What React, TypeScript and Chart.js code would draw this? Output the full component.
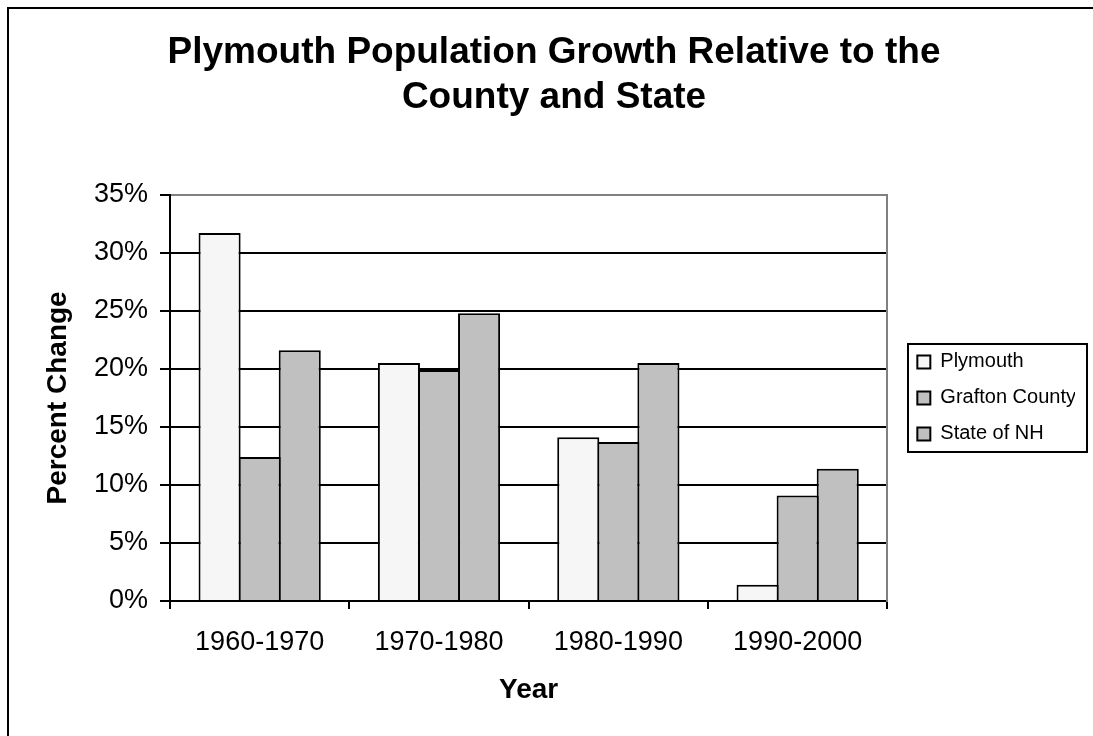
import React, { useEffect, useRef } from 'react';
import { Chart, registerables } from 'chart.js';

Chart.register(...registerables);

const categories = ['1960-1970', '1970-1980', '1980-1990', '1990-2000'];
const seriesNames = ['Plymouth', 'Grafton County', 'State of NH'];
const plymouth = [31.7, 20.5, 14.1, 1.4];
const graftonCounty = [12.4, 19.9, 13.7, 9.1];
const stateOfNH = [21.6, 24.8, 20.5, 11.4];
const yMin = 0;
const yMax = 35;
const yStep = 5;
const titleLines = ['Plymouth Population Growth Relative to the', 'County and State'];
const xTitle = 'Year';
const yTitle = 'Percent Change';

const FONT = "'Liberation Sans', Arial, Helvetica, sans-serif";

const legendFrame = {
  id: 'legendFrame',
  afterDraw(chart: any) {
    const hb = chart.legend && chart.legend.legendHitBoxes;
    if (!hb || !hb.length) return;
    let left = Infinity, right = -Infinity, top = Infinity, bottom = -Infinity;
    hb.forEach((b: any) => {
      left = Math.min(left, b.left);
      right = Math.max(right, b.left + b.width);
      top = Math.min(top, b.top);
      bottom = Math.max(bottom, b.top + b.height);
    });
    const ctx = chart.ctx;
    const x0 = Math.round(left - 9);
    const y0 = Math.round(top - 8);
    const x1 = Math.round(right + 11);
    const y1 = Math.round(bottom + 8);
    ctx.save();
    ctx.strokeStyle = '#000';
    ctx.lineWidth = 2;
    ctx.strokeRect(x0, y0, x1 - x0, y1 - y0);
    ctx.restore();
  },
};

export default function App() {
  const canvasRef = useRef<HTMLCanvasElement | null>(null);

  useEffect(() => {
    if (!canvasRef.current) return;
    const colors = ['#F6F6F6', '#C0C0C0', '#C0C0C0'];
    const values = [plymouth, graftonCounty, stateOfNH];
    const chart = new Chart(canvasRef.current, {
      type: 'bar',
      data: {
        labels: categories,
        datasets: seriesNames.map((name, i) => ({
          label: name,
          data: values[i],
          backgroundColor: colors[i],
          borderColor: '#000',
          borderWidth: 2,
          categoryPercentage: 0.6704,
          barPercentage: 1.05,
          yAxisID: 'y',
        })),
      },
      options: {
        responsive: false,
        animation: false,
        events: [],
        layout: { padding: { left: 33, right: 18, top: 0, bottom: 0 } },
        plugins: {
          title: {
            display: true,
            text: titleLines,
            color: '#000',
            font: { family: FONT, size: 37, weight: 'bold', lineHeight: 1.2 },
            padding: { top: 31, bottom: 75 },
          },
          legend: {
            display: true,
            position: 'right',
            fullSize: false,
            align: 'center',
            labels: {
              color: '#000',
              font: { family: FONT, size: 20 },
              boxWidth: 13,
              boxHeight: 13,
              padding: 16,
            },
          },
          tooltip: { enabled: false },
        },
        scales: {
          x: {
            offset: true,
            grid: {
              display: true,
              offset: true,
              drawOnChartArea: false,
              drawTicks: true,
              tickLength: 8,
              color: '#000',
              lineWidth: 2,
            },
            border: { display: true, color: '#000', width: 2 },
            ticks: {
              color: '#000',
              font: { family: FONT, size: 27 },
              padding: 17,
              maxRotation: 0,
              autoSkip: false,
            },
            title: {
              display: true,
              text: xTitle,
              color: '#000',
              font: { family: FONT, size: 28, weight: 'bold' },
              padding: { top: 0, bottom: 29 },
            },
            afterFit: (s: any) => {
              s.height = 135;
            },
          },
          y: {
            min: yMin,
            max: yMax,
            ticks: {
              stepSize: yStep,
              color: '#000',
              font: { family: FONT, size: 27 },
              padding: 12,
              callback: (v: any) => `${v}%`,
            },
            grid: {
              color: (c: any) => (c.tick && c.tick.value === yMax ? '#808080' : '#000'),
              tickColor: '#000',
              lineWidth: 2,
              tickLength: 10,
            },
            border: { display: true, color: '#000', width: 2 },
            title: {
              display: true,
              text: yTitle,
              color: '#000',
              font: { family: FONT, size: 28, weight: 'bold' },
              padding: { top: 8, bottom: 0 },
            },
            afterFit: (s: any) => {
              s.width = 137;
            },
          },
          y2: {
            position: 'right',
            display: true,
            grid: { drawOnChartArea: false, drawTicks: false },
            ticks: { display: false },
            border: { display: true, color: '#808080', width: 2 },
            afterFit: (s: any) => {
              s.width = 14;
            },
          },
        },
      },
      plugins: [legendFrame],
    } as any);
    return () => chart.destroy();
  }, []);

  return (
    <div style={{ position: 'absolute', left: 0, top: 0, width: 1093, height: 736, background: '#fff', overflow: 'hidden' }}>
      <canvas ref={canvasRef} width={1093} height={736} style={{ display: 'block' }} />
      <div
        style={{
          position: 'absolute',
          left: 7,
          top: 7,
          width: 1086,
          height: 729,
          boxSizing: 'border-box',
          borderTop: '2px solid #000',
          borderLeft: '2px solid #000',
          pointerEvents: 'none',
        }}
      />
    </div>
  );
}
